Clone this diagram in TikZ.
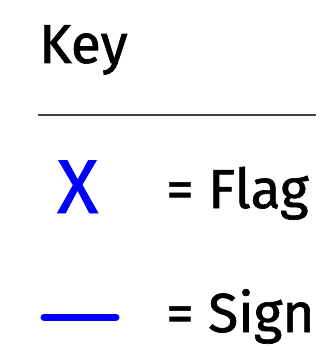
\documentclass[tikz,border=0pt]{standalone}
\usepackage{fontspec}
\setmainfont{Fira Sans}[FakeBold=1.2]
\definecolor{keyblue}{RGB}{0,0,255}
\tikzset{
  lbl/.style={inner sep=0pt, anchor=base west, font=\fontsize{55}{60}\selectfont},
  flagx/.style={inner sep=0pt, anchor=base west, text=keyblue, font=\fontsize{76}{80}\selectfont},
  signline/.style={draw=keyblue, line width=7pt, line cap=round},
  rule/.style={draw=black!75, line width=1.2pt}
}
\begin{document}
\begin{tikzpicture}[x=1pt,y=-1pt]
\useasboundingbox (0,0) rectangle (336,350);
\node[lbl] (key) at (39,63) {Key};
\coordinate (r1) at (38,115);
\coordinate (r2) at (316,115);
\draw[rule] (r1) -- (r2);
\node[flagx] (x) at (57,213) {X};
\node[lbl] (flag) at (166,208) {= Flag};
\coordinate (s1) at (44,317);
\coordinate (s2) at (116,317);
\draw[signline] (s1) -- (s2);
\node[lbl] (sign) at (166,332) {= Sign};
\end{tikzpicture}
\end{document}
